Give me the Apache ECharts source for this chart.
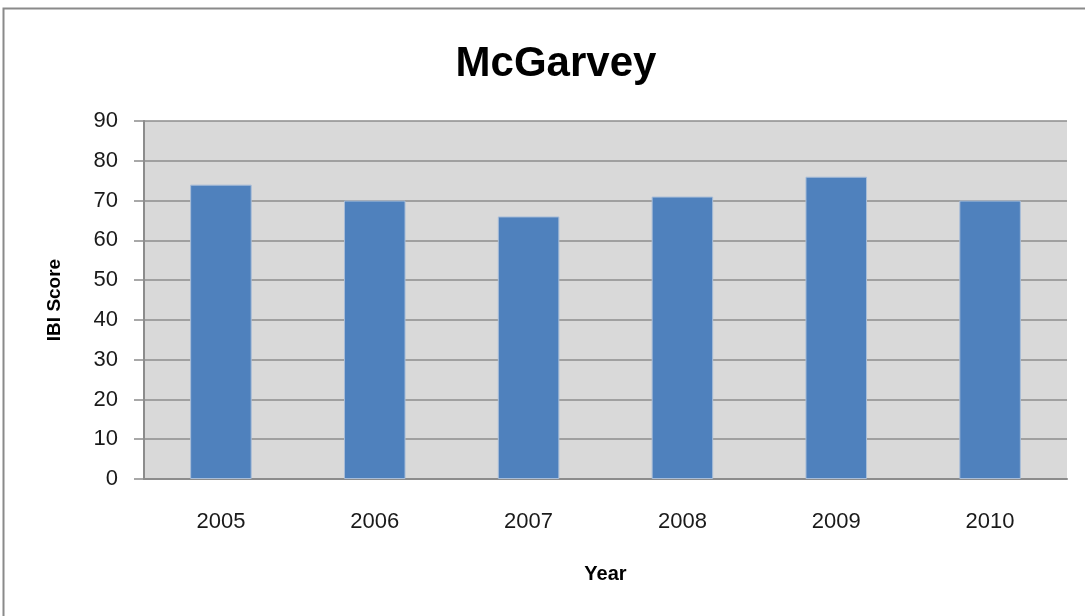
<!DOCTYPE html>
<html>
<head>
<meta charset="utf-8">
<script src="https://cdn.jsdelivr.net/npm/echarts@6/dist/echarts.min.js"></script>
<style>
  html, body { margin: 0; padding: 0; background: #ffffff; }
  #chart { width: 1085px; height: 616px; }
</style>
</head>
<body>
<div id="chart"></div>
<script>
// IBI scores for the McGarvey site, by sampling year
const years = ['2005', '2006', '2007', '2008', '2009', '2010'];
const ibiScores = [74, 70, 66, 71, 76, 70];
const yTicks = { min: 0, max: 90, step: 10 };

const chart = echarts.init(document.getElementById('chart'), null, { renderer: 'canvas' });

const font = '"Liberation Sans", Arial, sans-serif';

chart.setOption({
  backgroundColor: '#ffffff',
  animation: false,
  graphic: [{
    // chart frame
    type: 'rect',
    shape: { x: 3.5, y: 8.5, width: 1200, height: 800 },
    style: { fill: 'none', stroke: '#8a8a8a', lineWidth: 2 },
    silent: true
  }],
  title: {
    text: 'McGarvey',
    left: 551,
    top: 38,
    textAlign: 'center',
    textStyle: { fontFamily: font, fontSize: 42, fontWeight: 'bold', color: '#000000' }
  },
  grid: {
    left: 144,
    right: 18,
    top: 121,
    bottom: 137,
    show: true,
    backgroundColor: '#d9d9d9',
    borderWidth: 0
  },
  xAxis: {
    type: 'category',
    data: years,
    name: 'Year',
    nameLocation: 'middle',
    nameGap: 85,
    nameTextStyle: { fontFamily: font, fontSize: 20, fontWeight: 'bold', color: '#000000' },
    axisLine: { show: true, lineStyle: { color: '#8c8c8c', width: 2 } },
    axisTick: { show: false },
    axisLabel: { fontFamily: font, fontSize: 22, color: '#1a1a1a', margin: 32 },
    splitLine: { show: false }
  },
  yAxis: {
    type: 'value',
    min: yTicks.min,
    max: yTicks.max,
    interval: yTicks.step,
    name: 'IBI Score',
    nameLocation: 'middle',
    nameGap: 80,
    nameRotate: 90,
    nameTextStyle: { fontFamily: font, fontSize: 19, fontWeight: 'bold', color: '#000000' },
    axisLine: { show: true, lineStyle: { color: '#8c8c8c', width: 2 } },
    axisTick: { show: true, inside: false, length: 10, lineStyle: { color: '#8c8c8c', width: 1.5 } },
    axisLabel: { fontFamily: font, fontSize: 22, color: '#1a1a1a', margin: 26 },
    splitLine: { show: true, lineStyle: { color: '#8c8c8c', width: 1.5 } }
  },
  series: [{
    type: 'bar',
    data: ibiScores,
    barWidth: '40%',
    itemStyle: { color: '#4f81bd', borderColor: '#a8bdd8', borderWidth: 1 }
  }]
});
</script>
</body>
</html>
